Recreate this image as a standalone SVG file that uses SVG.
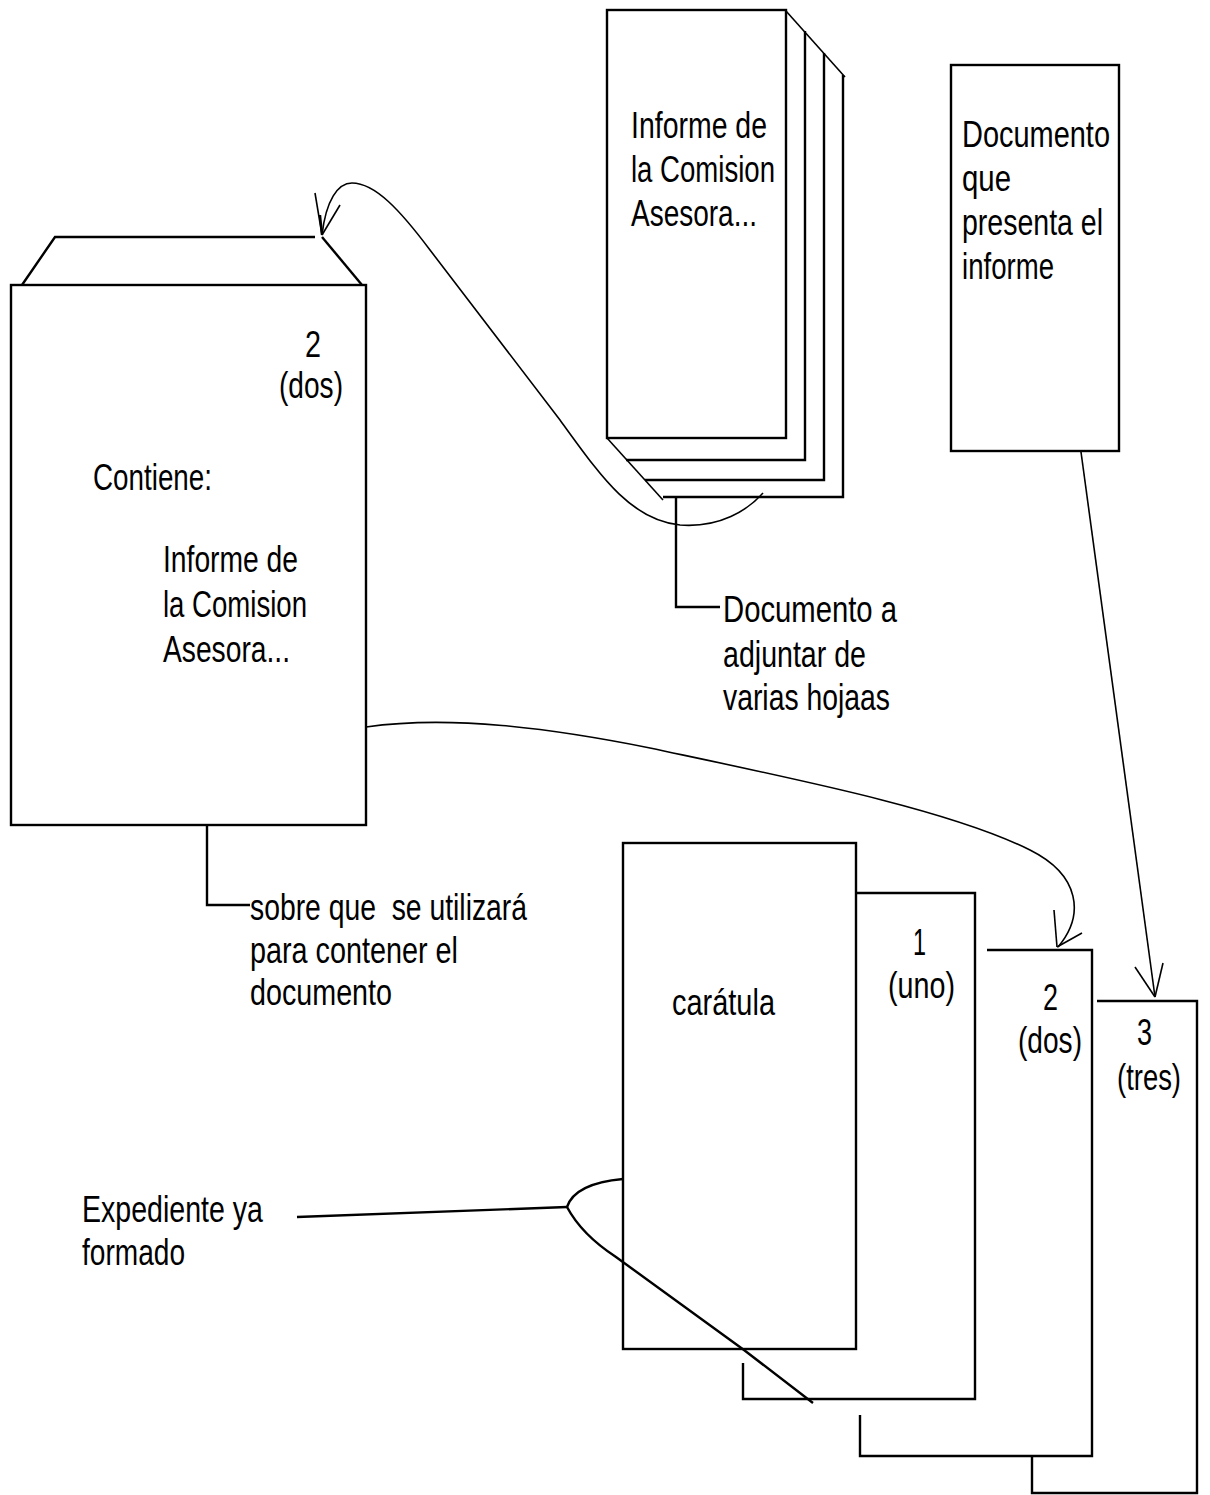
<svg xmlns="http://www.w3.org/2000/svg" width="1210" height="1495" viewBox="0 0 1210 1495">
<style>
.b{fill:none;stroke:#000;stroke-width:2.4}
.c{fill:none;stroke:#000;stroke-width:1.6}
text{font-family:"Liberation Sans",Arial,sans-serif;font-size:37px;fill:#000}
</style>
<rect width="1210" height="1495" fill="#fff"/>
<g id="stack">
<polyline class="b" points="805,31 805,460 626,460"/>
<polyline class="b" points="824,53 824,480 645,480"/>
<polyline class="b" points="843,75 843,497 663,497"/>
<line class="c" x1="786" y1="11" x2="845" y2="77"/>
<line class="c" x1="607" y1="438" x2="663" y2="500"/>
<rect class="b" x="607" y="10" width="179" height="428" fill="#fff"/>
<text x="631" y="138" textLength="136" lengthAdjust="spacingAndGlyphs">Informe de</text>
<text x="631" y="182" textLength="144" lengthAdjust="spacingAndGlyphs">la Comision</text>
<text x="631" y="226" textLength="126" lengthAdjust="spacingAndGlyphs">Asesora...</text>
</g>
<g id="doc-presenta">
<rect class="b" x="951" y="65" width="168" height="386"/>
<text x="962" y="147" textLength="148" lengthAdjust="spacingAndGlyphs">Documento</text>
<text x="962" y="191" textLength="49" lengthAdjust="spacingAndGlyphs">que</text>
<text x="962" y="235" textLength="141" lengthAdjust="spacingAndGlyphs">presenta el</text>
<text x="962" y="279" textLength="92" lengthAdjust="spacingAndGlyphs">informe</text>
</g>
<g id="sobre">
<polyline class="b" points="22,285 55,237 315,237"/>
<line class="b" x1="322" y1="237" x2="362" y2="285"/>
<rect class="b" x="11" y="285" width="355" height="540"/>
<text x="305" y="357" textLength="16" lengthAdjust="spacingAndGlyphs">2</text>
<text x="279" y="398" textLength="64" lengthAdjust="spacingAndGlyphs">(dos)</text>
<text x="93" y="490" textLength="119" lengthAdjust="spacingAndGlyphs">Contiene:</text>
<text x="163" y="572" textLength="135" lengthAdjust="spacingAndGlyphs">Informe de</text>
<text x="163" y="617" textLength="144" lengthAdjust="spacingAndGlyphs">la Comision</text>
<text x="163" y="662" textLength="127" lengthAdjust="spacingAndGlyphs">Asesora...</text>
</g>
<g id="label-adjuntar">
<text x="723" y="622" textLength="174" lengthAdjust="spacingAndGlyphs">Documento a</text>
<text x="723" y="667" textLength="143" lengthAdjust="spacingAndGlyphs">adjuntar de</text>
<text x="723" y="710" textLength="167" lengthAdjust="spacingAndGlyphs">varias hojaas</text>
</g>
<g id="label-sobre">
<text x="250" y="920" textLength="277" lengthAdjust="spacingAndGlyphs" xml:space="preserve">sobre que  se utilizará</text>
<text x="250" y="963" textLength="208" lengthAdjust="spacingAndGlyphs">para contener el</text>
<text x="250" y="1005" textLength="142" lengthAdjust="spacingAndGlyphs">documento</text>
</g>
<g id="hoja3">
<polyline class="b" points="1097,1001 1197,1001 1197,1493 1032,1493 1032,1457"/>
<text x="1137" y="1045" textLength="15" lengthAdjust="spacingAndGlyphs">3</text>
<text x="1117" y="1090" textLength="64" lengthAdjust="spacingAndGlyphs">(tres)</text>
</g>
<g id="hoja2">
<polyline class="b" points="987,950 1092,950 1092,1456 860,1456 860,1415"/>
<text x="1043" y="1010" textLength="15" lengthAdjust="spacingAndGlyphs">2</text>
<text x="1018" y="1053" textLength="64" lengthAdjust="spacingAndGlyphs">(dos)</text>
</g>
<g id="hoja1">
<polyline class="b" points="856,893 975,893 975,1399 743,1399 743,1363"/>
<text x="913" y="955" textLength="13" lengthAdjust="spacingAndGlyphs">1</text>
<text x="888" y="998" textLength="67" lengthAdjust="spacingAndGlyphs">(uno)</text>
</g>
<g id="caratula">
<rect class="b" x="623" y="843" width="233" height="506"/>
<text x="672" y="1015" textLength="103" lengthAdjust="spacingAndGlyphs">carátula</text>
</g>
<g id="label-expediente">
<text x="82" y="1222" textLength="181" lengthAdjust="spacingAndGlyphs">Expediente ya</text>
<text x="82" y="1265" textLength="103" lengthAdjust="spacingAndGlyphs">formado</text>
</g>
<g id="connectors">
<path class="c" d="M322,235 C326,200 338,183 352,183 C375,183 400,210 430,250 L560,420 C600,475 630,520 680,525 C720,528 748,510 763,493"/>
<line class="c" x1="315" y1="193" x2="322" y2="235"/>
<line class="c" x1="340" y1="205" x2="322" y2="235"/>
<line class="b" x1="320" y1="215" x2="322" y2="235"/>
<polyline class="b" points="676,497 676,607 720,607"/>
<polyline class="b" points="207,825 207,905 250,905"/>
<path class="c" d="M366,727 C450,715 550,728 650,748 C800,780 950,810 1030,850 C1080,875 1085,915 1058,947"/>
<line class="c" x1="1054" y1="910" x2="1057" y2="947"/>
<line class="c" x1="1082" y1="933" x2="1057" y2="947"/>
<line class="c" x1="1081" y1="452" x2="1155" y2="997"/>
<line class="c" x1="1135" y1="967" x2="1155" y2="997"/>
<line class="c" x1="1163" y1="963" x2="1155" y2="997"/>
<polyline class="b" points="297,1217 567,1207"/>
<path class="b" d="M567,1207 C572,1192 590,1182 623,1179"/>
<path class="b" d="M567,1207 C575,1222 590,1240 616,1257 L744,1350 L813,1403"/>
</g>
</svg>
